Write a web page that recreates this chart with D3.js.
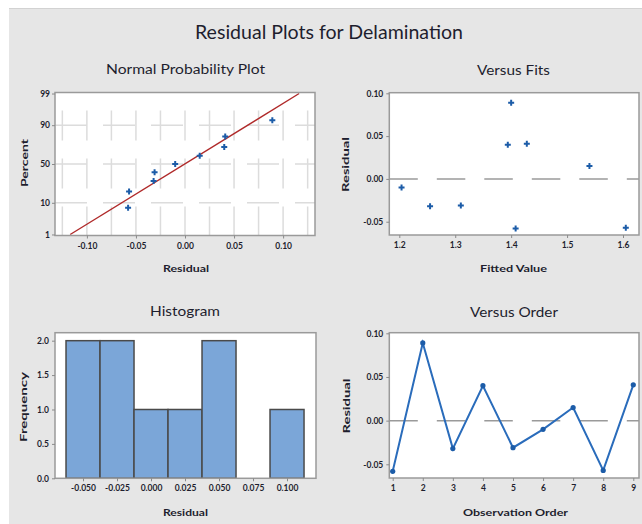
<!DOCTYPE html>
<html><head><meta charset="utf-8">
<script src="https://cdn.jsdelivr.net/npm/d3@7"></script>
<style>
html,body{margin:0;padding:0;background:#fff;}
svg{display:block;}
.tick text{font-family:Lato,"DejaVu Sans",sans-serif;font-weight:700;font-size:8.5px;fill:#1e1e2e;}
.tick line{stroke:#8a8a8a;stroke-width:1;}
</style></head>
<body>
<svg id="c" width="642" height="524"></svg>
<script>
// ---- data ----
const observationOrder = [1, 2, 3, 4, 5, 6, 7, 8, 9];
const residuals = [-0.058, 0.089, -0.032, 0.040, -0.031, -0.010, 0.015, -0.057, 0.041];
const fittedValues = [1.408, 1.400, 1.255, 1.394, 1.310, 1.204, 1.540, 1.605, 1.428];
const nppPercent = [7.4, 18.1, 28.7, 39.4, 50.0, 60.6, 71.3, 81.9, 92.6]; // for sorted residuals
const nppYTicks = [1, 10, 50, 90, 99];
const nppGridY = [10, 50, 90];
const nppXTicks = [-0.10, -0.05, 0.00, 0.05, 0.10];
const nppGridX = [-0.125, -0.10, -0.075, -0.05, -0.025, 0, 0.025, 0.05, 0.075, 0.10, 0.125];
const fitsXTicks = [1.2, 1.3, 1.4, 1.5, 1.6];
const residYTicks = [-0.05, 0.00, 0.05, 0.10];
const histEdges = [-0.0625, -0.0375, -0.0125, 0.0125, 0.0375, 0.0625, 0.0875, 0.1125];
const histXTicks = [-0.050, -0.025, 0.000, 0.025, 0.050, 0.075, 0.100];
const histYTicks = [0.0, 0.5, 1.0, 1.5, 2.0];

// ---- helpers ----
function probit(p){
  const a=[-3.969683028665376e+01,2.209460984245205e+02,-2.759285104469687e+02,1.383577518672690e+02,-3.066479806614716e+01,2.506628277459239e+00];
  const b=[-5.447609879822406e+01,1.615858368580409e+02,-1.556989798598866e+02,6.680131188771972e+01,-1.328068155288572e+01];
  const c=[-7.784894002430293e-03,-3.223964580411365e-01,-2.400758277161838e+00,-2.549732969445449e+00,4.374664141464968e+00,2.938163982698783e+00];
  const d=[7.784695709041462e-03,3.224671290700398e-01,2.445134137142996e+00,3.754408661907416e+00];
  const pl=0.02425, ph=1-pl; let q,r;
  if(p<pl){q=Math.sqrt(-2*Math.log(p));return (((((c[0]*q+c[1])*q+c[2])*q+c[3])*q+c[4])*q+c[5])/((((d[0]*q+d[1])*q+d[2])*q+d[3])*q+1);}
  if(p<=ph){q=p-0.5;r=q*q;return (((((a[0]*r+a[1])*r+a[2])*r+a[3])*r+a[4])*r+a[5])*q/(((((b[0]*r+b[1])*r+b[2])*r+b[3])*r+b[4])*r+1);}
  q=Math.sqrt(-2*Math.log(1-p));return -(((((c[0]*q+c[1])*q+c[2])*q+c[3])*q+c[4])*q+c[5])/((((d[0]*q+d[1])*q+d[2])*q+d[3])*q+1);
}
const fmt = f => v => d3.format(f)(v).replace("\u2212","-");
const FONT = 'Lato,"DejaVu Sans",sans-serif';
const TEXT = "#1e1e2e";
const BLUE = "#1c5ca8";

const svg = d3.select("#c");
svg.append("rect").attr("x",9).attr("y",8).attr("width",633).attr("height",516).attr("fill","#e6e6e6");
svg.append("line").attr("x1",9).attr("x2",642).attr("y1",8.5).attr("y2",8.5).attr("stroke","#d2d2d2");

function label(txt, x, y, size, weight, len, rotate){
  const t = svg.append("text").attr("text-anchor","middle")
    .attr("font-family",FONT).attr("font-size",size).attr("font-weight",weight)
    .attr("fill",TEXT).text(txt);
  if(rotate){ t.attr("transform",`translate(${x},${y}) rotate(-90)`); }
  else { t.attr("x",x).attr("y",y); }
  if(len) t.attr("textLength",len).attr("lengthAdjust","spacingAndGlyphs");
  return t;
}

label("Residual Plots for Delamination", 329, 39, 20, 400, 268);

function panel(x0,y0,x1,y1){
  const g = svg.append("g");
  const id = "clip"+Math.round(x0)+"_"+Math.round(y0);
  svg.append("clipPath").attr("id",id).append("rect").attr("x",x0).attr("y",y0).attr("width",x1-x0).attr("height",y1-y0);
  g.append("rect").attr("x",x0).attr("y",y0).attr("width",x1-x0).attr("height",y1-y0).attr("fill","#fff");
  const inner = g.append("g").attr("clip-path",`url(#${id})`);
  return {g, inner, border(){ g.append("rect").attr("x",x0).attr("y",y0).attr("width",x1-x0).attr("height",y1-y0)
      .attr("fill","none").attr("stroke","#9a9a9a").attr("stroke-width",1.5); }};
}
function styleAxis(sel){ sel.select(".domain").remove(); }

// ===== Normal Probability Plot =====
{
  const L=55,R=315,T=92.5,B=235.5;
  const x = d3.scaleLinear().domain([-0.1325,0.1325]).range([L,R]);
  const yz = d3.scaleLinear().domain([-2.36,2.36]).range([B,T]);
  const y = p => yz(probit(p/100));
  const p = panel(L,T,R,B);
  p.inner.selectAll(".gv").data(nppGridX).join("line")
    .attr("x1",d=>x(d)).attr("x2",d=>x(d)).attr("y1",T).attr("y2",B)
    .attr("stroke","#dcdcdc").attr("stroke-width",1.5).attr("stroke-dasharray","30,18").attr("stroke-dashoffset",30);
  p.inner.selectAll(".gh").data(nppGridY).join("line")
    .attr("x1",L).attr("x2",R).attr("y1",d=>y(d)).attr("y2",d=>y(d))
    .attr("stroke","#dcdcdc").attr("stroke-width",1.5).attr("stroke-dasharray","32,16");
  const mu = d3.mean(residuals), sd = d3.deviation(residuals);
  const lineP = [1, 99];
  p.inner.append("path").datum(lineP)
    .attr("d", d3.line().x(q=>x(mu+sd*probit(q/100))).y(q=>y(q)))
    .attr("stroke","#b02a2a").attr("stroke-width",1.4).attr("fill","none");
  const sorted = residuals.slice().sort(d3.ascending);
  p.inner.selectAll(".pt").data(sorted).join("path")
    .attr("d", d3.symbol(d3.symbolCross, 20)())
    .attr("transform",(d,i)=>`translate(${x(d)},${y(nppPercent[i])})`).attr("fill",BLUE);
  p.border();
  svg.append("g").attr("transform",`translate(0,${B})`)
    .call(d3.axisBottom(x).tickValues(nppXTicks).tickFormat(fmt(".2f")).tickSize(3).tickPadding(4)).call(styleAxis);
  svg.append("g").attr("transform",`translate(${L},0)`)
    .call(d3.axisLeft(yz).tickValues(nppYTicks.map(v=>probit(v/100))).tickFormat((d,i)=>String(nppYTicks[i])).tickSize(3).tickPadding(2)).call(styleAxis);
  label("Normal Probability Plot", 185.5, 74, 13.5, 400, 159);
  label("Residual", 186, 272, 10, 700, 46);
  label("Percent", 28, 163, 10, 700, 48, true);
}

// ===== Versus Fits =====
{
  const L=389.3,R=639,T=92.7,B=235;
  const x = d3.scaleLinear().domain([1.1821,1.6286]).range([L,R]);
  const y = d3.scaleLinear().domain([-0.0655,0.1007]).range([B,T]);
  const p = panel(L,T,R,B);
  p.inner.append("line").attr("x1",L).attr("x2",R).attr("y1",y(0)).attr("y2",y(0))
    .attr("stroke","#9a9a9a").attr("stroke-width",1.5).attr("stroke-dasharray","28.5,19");
  p.inner.selectAll(".pt").data(residuals).join("path")
    .attr("d", d3.symbol(d3.symbolCross, 20)())
    .attr("transform",(d,i)=>`translate(${x(fittedValues[i])},${y(d)})`).attr("fill",BLUE);
  p.border();
  svg.append("g").attr("transform",`translate(0,${B})`)
    .call(d3.axisBottom(x).tickValues(fitsXTicks).tickFormat(fmt(".1f")).tickSize(3).tickPadding(4)).call(styleAxis);
  svg.append("g").attr("transform",`translate(${L},0)`)
    .call(d3.axisLeft(y).tickValues(residYTicks).tickFormat(fmt(".2f")).tickSize(3).tickPadding(3)).call(styleAxis);
  label("Versus Fits", 513.5, 75, 13.5, 400, 73);
  label("Fitted Value", 513.5, 272, 10, 700, 67);
  label("Residual", 349, 164.5, 10, 700, 55, true);
}

// ===== Histogram =====
{
  const L=55,R=316,T=332.7,B=478.3;
  const x = d3.scaleLinear().domain([-0.0706,0.1213]).range([L,R]);
  const y = d3.scaleLinear().domain([0,2.116]).range([B,T]);
  const bins = d3.bin().domain([histEdges[0], histEdges[histEdges.length-1]])
    .thresholds(histEdges.slice(1,-1))(residuals);
  const p = panel(L,T,R,B);
  p.inner.selectAll(".bar").data(bins.filter(b=>b.length>0)).join("rect")
    .attr("x",b=>x(b.x0)).attr("width",b=>x(b.x1)-x(b.x0))
    .attr("y",b=>y(b.length)).attr("height",b=>y(0)-y(b.length))
    .attr("fill","#7ba6d8").attr("stroke","#4a4a4a").attr("stroke-width",1.5);
  p.border();
  svg.append("g").attr("transform",`translate(0,${B})`)
    .call(d3.axisBottom(x).tickValues(histXTicks).tickFormat(fmt(".3f")).tickSize(3).tickPadding(4)).call(styleAxis);
  svg.append("g").attr("transform",`translate(${L},0)`)
    .call(d3.axisLeft(y).tickValues(histYTicks).tickFormat(fmt(".1f")).tickSize(3).tickPadding(3)).call(styleAxis);
  label("Histogram", 185, 316, 13.5, 400, 70);
  label("Residual", 185.5, 516, 10, 700, 45);
  label("Frequency", 27, 407, 10, 700, 70, true);
}

// ===== Versus Order =====
{
  const L=389.3,R=639,T=332.7,B=478;
  const x = d3.scaleLinear().domain([0.887,9.19]).range([L,R]);
  const y = d3.scaleLinear().domain([-0.0657,0.1007]).range([B,T]);
  const p = panel(L,T,R,B);
  p.inner.append("line").attr("x1",L).attr("x2",R).attr("y1",y(0)).attr("y2",y(0))
    .attr("stroke","#9a9a9a").attr("stroke-width",1.5).attr("stroke-dasharray","28.5,19");
  p.inner.append("path").datum(residuals)
    .attr("d", d3.line().x((d,i)=>x(observationOrder[i])).y(d=>y(d)))
    .attr("stroke","#2a6cbb").attr("stroke-width",2).attr("fill","none");
  p.inner.selectAll(".pt").data(residuals).join("circle")
    .attr("cx",(d,i)=>x(observationOrder[i])).attr("cy",d=>y(d)).attr("r",2.6).attr("fill",BLUE);
  p.border();
  svg.append("g").attr("transform",`translate(0,${B})`)
    .call(d3.axisBottom(x).tickValues(observationOrder).tickFormat(d3.format("d")).tickSize(3).tickPadding(4)).call(styleAxis);
  svg.append("g").attr("transform",`translate(${L},0)`)
    .call(d3.axisLeft(y).tickValues(residYTicks).tickFormat(fmt(".2f")).tickSize(3).tickPadding(3)).call(styleAxis);
  label("Versus Order", 514, 317, 13.5, 400, 88);
  label("Observation Order", 515.5, 516, 10, 700, 105);
  label("Residual", 350, 406, 10, 700, 55, true);
}
</script>
</body></html>
